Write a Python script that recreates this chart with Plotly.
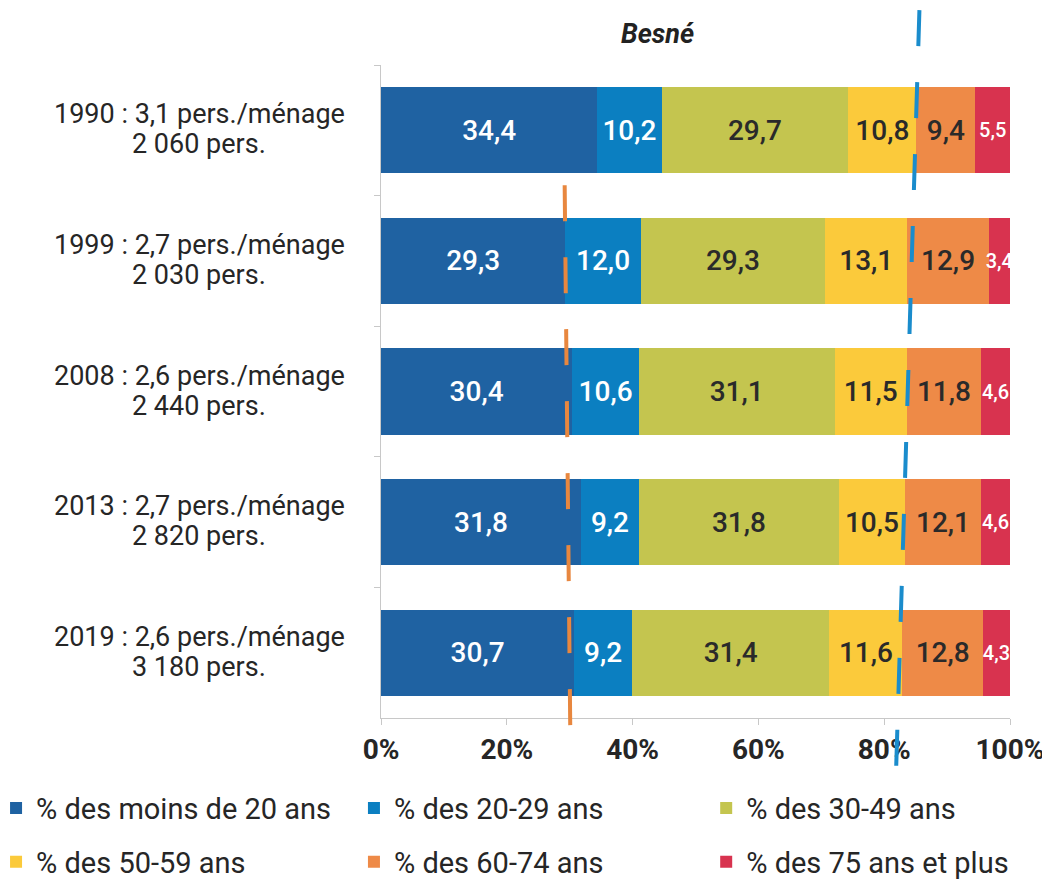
import plotly.graph_objects as go

# ---- data ----
annees = ["1990", "1999", "2008", "2013", "2019"]
pers_menage = ["3,1", "2,7", "2,6", "2,7", "2,6"]
population = ["2 060", "2 030", "2 440", "2 820", "3 180"]

series_noms = [
    "% des moins de 20 ans",
    "% des 20-29 ans",
    "% des 30-49 ans",
    "% des 50-59 ans",
    "% des 60-74 ans",
    "% des 75 ans et plus",
]
moins_20 = [34.4, 29.3, 30.4, 31.8, 30.7]
ans_20_29 = [10.2, 12.0, 10.6, 9.2, 9.2]
ans_30_49 = [29.7, 29.3, 31.1, 31.8, 31.4]
ans_50_59 = [10.8, 13.1, 11.5, 10.5, 11.6]
ans_60_74 = [9.4, 12.9, 11.8, 12.1, 12.8]
ans_75_plus = [5.5, 3.4, 4.6, 4.6, 4.3]

tick_vals = [0, 20, 40, 60, 80, 100]
tick_text = ["0%", "20%", "40%", "60%", "80%", "100%"]

# reference marks (percent at top, percent at bottom)
repere_orange = [29.2, 30.1]
repere_bleu = [85.6, 81.9]

# ---- styles ----
couleurs = ["#1f62a2", "#0b7fc1", "#c4c54f", "#fbca3b", "#ee8a47", "#d8334f"]
couleurs_texte = ["white", "white", "#2a2a2a", "#2a2a2a", "#2a2a2a", "white"]
tailles_texte = [28, 28, 28, 28, 28, 20]
FONT = "Roboto"

valeurs = [moins_20, ans_20_29, ans_30_49, ans_50_59, ans_60_74, ans_75_plus]
legendes = ["legend", "legend2", "legend3", "legend", "legend2", "legend3"]

fig = go.Figure()
for i, (nom, vals) in enumerate(zip(series_noms, valeurs)):
    fig.add_trace(go.Bar(
        x=vals, y=annees, orientation="h", name=nom,
        marker=dict(color=couleurs[i], line=dict(width=0)),
        texttemplate="%{x:.1f}", textposition="inside",
        insidetextanchor="middle", textangle=0, constraintext="none",
        textfont=dict(family=FONT, size=tailles_texte[i], color=couleurs_texte[i], weight=500),
        legend=legendes[i], legendgroup=nom, hoverinfo="skip",
    ))

# y labels as centered two-line annotations (y = category index)
annotations = []
for idx, (a, pm, pop) in enumerate(zip(annees, pers_menage, population)):
    annotations.append(dict(
        x=-0.289, xref="paper", y=idx, yref="y", xanchor="center", yanchor="middle",
        text=f"{a} : {pm} pers./ménage", showarrow=False, yshift=16,
        font=dict(family=FONT, size=27, color="#262626")))
    annotations.append(dict(
        x=-0.289, xref="paper", y=idx, yref="y", xanchor="center", yanchor="middle",
        text=f"{pop} pers.", showarrow=False, yshift=-14,
        font=dict(family=FONT, size=27, color="#262626")))

annotations.append(dict(
    x=0.439, xref="paper", y=1.047, yref="paper", xanchor="center", yanchor="middle",
    text="Besné", showarrow=False,
    font=dict(family=FONT, size=27, color="#222222", weight="bold", style="italic")))

shapes = [
    dict(type="line", xref="x", yref="paper", x0=repere_orange[0], x1=repere_orange[1],
         y0=0.816, y1=-0.026, layer="above",
         line=dict(color="#e8873f", width=4, dash="36px,36px")),
    dict(type="line", xref="x", yref="paper", x0=repere_bleu[0], x1=repere_bleu[1],
         y0=1.084, y1=-0.077, layer="above",
         line=dict(color="#1a8ccc", width=4, dash="36px,36px")),
]

leg_common = dict(orientation="v", xanchor="left", yanchor="top", y=-0.099,
                  font=dict(family=FONT, size=29, color="#262626"),
                  tracegroupgap=13, bgcolor="rgba(0,0,0,0)", traceorder="grouped")

# page body adds an 8px margin: figure is 8px smaller and shifted accordingly
fig.update_layout(
    width=1042, height=871,
    margin=dict(l=373, r=40, t=57, b=161, autoexpand=False),
    paper_bgcolor="white", plot_bgcolor="white",
    barmode="stack", bargap=0.34,
    separators=", ",
    showlegend=True,
    legend=dict(x=-0.612, **leg_common),
    legend2=dict(x=-0.043, **leg_common),
    legend3=dict(x=0.517, **leg_common),
    xaxis=dict(range=[0, 100], tickvals=tick_vals, ticktext=tick_text,
               showline=True, linecolor="#c8c8c8", linewidth=1,
               ticks="outside", ticklen=6, tickcolor="#c8c8c8",
               showgrid=False, zeroline=False,
               tickfont=dict(family=FONT, size=28, color="#262626", weight="bold")),
    yaxis=dict(type="category", categoryorder="array", categoryarray=annees,
               range=[4.5, -0.5], showline=True, linecolor="#c8c8c8", linewidth=1,
               ticks="outside", ticklen=6, tickcolor="#c8c8c8", tickson="boundaries",
               showticklabels=False, showgrid=False, zeroline=False),
    annotations=annotations,
    shapes=shapes,
)

fig.write_html("out.html")
